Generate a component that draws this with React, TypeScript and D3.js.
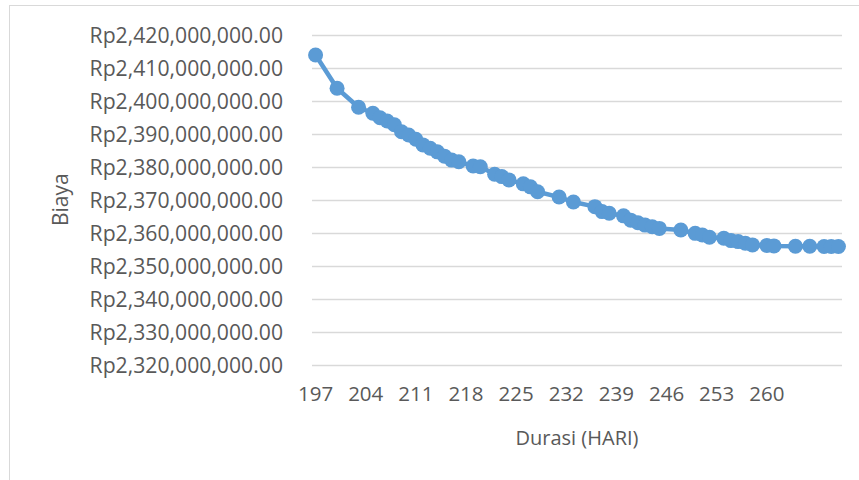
import React from "react";
import * as d3 from "d3";

const durations: number[] = [
  197, 200, 203, 205, 206, 207, 208, 209, 210, 211, 212, 213, 214, 215, 216, 217,
  219, 220, 222, 223, 224, 226, 227, 228, 231, 233, 236, 237, 238, 240, 241, 242,
  243, 244, 245, 248, 250, 251, 252, 254, 255, 256, 257, 258, 260, 261, 264, 266,
  268, 269, 270,
];

const costsMillions: number[] = [
  2413.85, 2403.76, 2398.0, 2396.2, 2394.85, 2393.85, 2392.7, 2390.6, 2389.6, 2388.3,
  2386.6, 2385.6, 2384.5, 2383.2, 2382.0, 2381.5, 2380.2, 2380.0, 2377.7, 2377.0,
  2376.0, 2374.8, 2373.9, 2372.4, 2370.8, 2369.3, 2367.9, 2366.4, 2365.9, 2365.1,
  2363.8, 2363.0, 2362.3, 2361.8, 2361.3, 2360.8, 2359.8, 2359.3, 2358.6, 2358.3,
  2357.6, 2357.3, 2356.8, 2356.3, 2356.1, 2356.0, 2355.9, 2355.9, 2355.8, 2355.8,
  2355.8,
];

const xTickLabels: number[] = [197, 204, 211, 218, 225, 232, 239, 246, 253, 260];
const yTickValues: number[] = [
  2420000000, 2410000000, 2400000000, 2390000000, 2380000000, 2370000000,
  2360000000, 2350000000, 2340000000, 2330000000, 2320000000,
];

const xTitle = "Durasi (HARI)";
const yTitle = "Biaya";

const W = 859;
const H = 480;
const plotLeft = 312;
const plotRight = 842;
const plotTop = 34.7;
const plotBottom = 364.7;
const FONT = "'Open Sans', 'Noto Sans', sans-serif";
const TEXT = "#595959";
const BLUE = "#5B9BD5";

export default function App() {
  const x = d3
    .scaleLinear()
    .domain([d3.min(durations)! - 0.5, d3.max(durations)! + 0.5])
    .range([plotLeft, plotRight]);
  const y = d3
    .scaleLinear()
    .domain([2320000000, 2420000000])
    .range([plotBottom, plotTop]);

  const pts = durations.map((d, i) => ({ d, c: costsMillions[i] * 1e6 }));
  const line = d3
    .line<{ d: number; c: number }>()
    .x((p) => x(p.d))
    .y((p) => y(p.c));

  const fmt = (v: number) => "Rp" + d3.format(",.2f")(v);

  return (
    <svg
      width={W}
      height={H}
      style={{ position: "absolute", left: 0, top: 0, background: "#fff" }}
    >
      <rect x={0} y={0} width={W} height={H} fill="#fff" />
      <rect
        x={9.5}
        y={5.5}
        width={860}
        height={490}
        fill="none"
        stroke="#D9D9D9"
        strokeWidth={1}
      />
      {yTickValues.map((v) => (
        <g key={v}>
          <line
            x1={plotLeft}
            x2={plotRight}
            y1={Math.round(y(v)) + 0.5}
            y2={Math.round(y(v)) + 0.5}
            stroke="#D9D9D9"
            strokeWidth={1.3}
          />
          <text
            x={283}
            y={y(v)}
            textAnchor="end"
            dominantBaseline="central"
            fontFamily={FONT}
            fontSize={21.2}
            fill={TEXT}
          >
            {fmt(v)}
          </text>
        </g>
      ))}
      {xTickLabels.map((t) => (
        <text
          key={t}
          x={x(t)}
          y={393}
          textAnchor="middle"
          dominantBaseline="central"
          fontFamily={FONT}
          fontSize={20.5}
          fill={TEXT}
        >
          {t}
        </text>
      ))}
      <text
        x={(plotLeft + plotRight) / 2}
        y={437}
        textAnchor="middle"
        dominantBaseline="central"
        fontFamily={FONT}
        fontSize={20}
        fill={TEXT}
      >
        {xTitle}
      </text>
      <text
        transform={`translate(60, ${(plotTop + plotBottom) / 2}) rotate(-90)`}
        textAnchor="middle"
        dominantBaseline="central"
        fontFamily={FONT}
        fontSize={21}
        fill={TEXT}
      >
        {yTitle}
      </text>
      <path
        d={line(pts) || ""}
        fill="none"
        stroke={BLUE}
        strokeWidth={4.5}
        strokeLinejoin="round"
        strokeLinecap="round"
      />
      {pts.map((p, i) => (
        <circle key={i} cx={x(p.d)} cy={y(p.c)} r={7.5} fill={BLUE} />
      ))}
    </svg>
  );
}
